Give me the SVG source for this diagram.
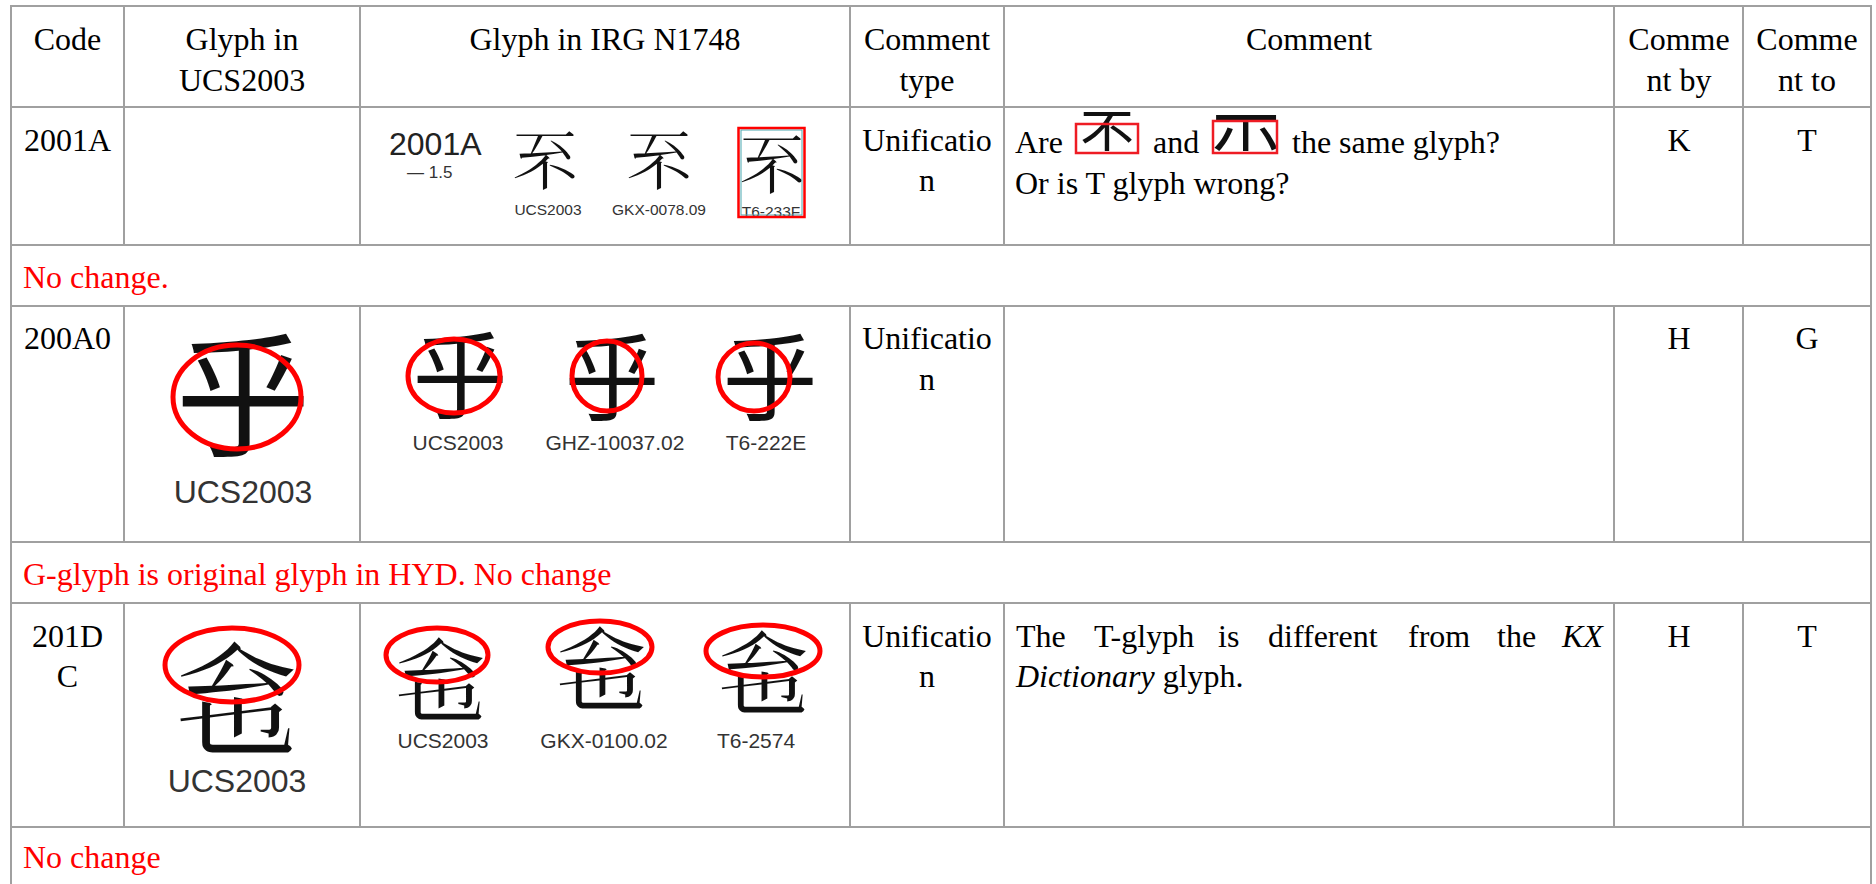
<svg xmlns="http://www.w3.org/2000/svg" width="1876" height="884" viewBox="0 0 1876 884">
<style>
.t{font-family:"Liberation Serif","Times New Roman",serif;font-size:32px;fill:#000}
.m{text-anchor:middle}
.note{font-family:"Liberation Serif","Times New Roman",serif;font-size:32px;fill:#ff0000}
.lab{font-family:"Liberation Sans",Arial,sans-serif;fill:#333;text-anchor:middle}
.cjk{font-family:"Noto Sans CJK TC","Noto Sans CJK SC","Noto Sans CJK JP","Noto Sans CJK KR",sans-serif;fill:#111;text-anchor:middle}
.ring{fill:none;stroke:#ff0000;stroke-width:5}
.grid line{stroke:#a0a0a0;stroke-width:2}
</style>
<defs>
<clipPath id="c1"><rect x="1070" y="112" width="75" height="39"/></clipPath>
<clipPath id="c2"><rect x="1205" y="109" width="80" height="42"/></clipPath>
<clipPath id="c3"><rect x="736" y="126" width="71" height="92"/></clipPath>
</defs>
<rect width="1876" height="884" fill="#fff"/>
<g id="grid" class="grid">
<line x1="11" y1="6" x2="11" y2="884"/>
<line x1="1871" y1="6" x2="1871" y2="884"/>
<line x1="10" y1="6" x2="1872" y2="6"/>
<line x1="10" y1="107" x2="1872" y2="107"/>
<line x1="10" y1="245" x2="1872" y2="245"/>
<line x1="10" y1="306" x2="1872" y2="306"/>
<line x1="10" y1="542" x2="1872" y2="542"/>
<line x1="10" y1="603" x2="1872" y2="603"/>
<line x1="10" y1="827" x2="1872" y2="827"/>
<line x1="124" y1="6" x2="124" y2="245"/><line x1="360" y1="6" x2="360" y2="245"/><line x1="850" y1="6" x2="850" y2="245"/><line x1="1004" y1="6" x2="1004" y2="245"/><line x1="1614" y1="6" x2="1614" y2="245"/><line x1="1743" y1="6" x2="1743" y2="245"/>
<line x1="124" y1="306" x2="124" y2="542"/><line x1="360" y1="306" x2="360" y2="542"/><line x1="850" y1="306" x2="850" y2="542"/><line x1="1004" y1="306" x2="1004" y2="542"/><line x1="1614" y1="306" x2="1614" y2="542"/><line x1="1743" y1="306" x2="1743" y2="542"/>
<line x1="124" y1="603" x2="124" y2="827"/><line x1="360" y1="603" x2="360" y2="827"/><line x1="850" y1="603" x2="850" y2="827"/><line x1="1004" y1="603" x2="1004" y2="827"/><line x1="1614" y1="603" x2="1614" y2="827"/><line x1="1743" y1="603" x2="1743" y2="827"/>
</g>
<g id="header">
<text class="t m" x="67.5" y="50">Code</text>
<text class="t m" x="242" y="50">Glyph in</text>
<text class="t m" x="242" y="91">UCS2003</text>
<text class="t m" x="605" y="50">Glyph in IRG N1748</text>
<text class="t m" x="927" y="50">Comment</text>
<text class="t m" x="927" y="91">type</text>
<text class="t m" x="1309" y="50">Comment</text>
<text class="t m" x="1679" y="50">Comme</text>
<text class="t m" x="1679" y="91">nt by</text>
<text class="t m" x="1807" y="50">Comme</text>
<text class="t m" x="1807" y="91">nt to</text>
</g>
<g id="row1">
<text class="t m" x="67.5" y="151">2001A</text>
<text x="389" y="155" font-family="Liberation Sans, Arial, sans-serif" font-size="32" fill="#222">2001A</text>
<text x="407" y="178" font-family="Liberation Sans, Arial, sans-serif" font-size="17" fill="#333">— 1.5</text>
<text class="cjk" x="545" y="185" font-size="66">𠀚</text>
<text class="lab" x="548" y="215" font-size="15.5">UCS2003</text>
<text class="cjk" x="659" y="185" font-size="66">𠀚</text>
<text class="lab" x="659" y="215" font-size="15.5">GKX-0078.09</text>
<g clip-path="url(#c3)">
<text class="cjk" x="772" y="189" font-size="66">𠀚</text>
<text class="lab" x="771" y="217" font-size="15.5">T6-233F</text>
</g>
<rect x="741" y="130" width="61" height="85" fill="none" stroke="#4aa8b0" stroke-width="1"/>
<rect x="738.5" y="128" width="66" height="89" fill="none" stroke="#ff0000" stroke-width="2.5"/>
<text class="t m" x="927" y="151">Unificatio</text>
<text class="t m" x="927" y="191">n</text>
<text class="t" x="1015" y="153">Are</text>
<g clip-path="url(#c1)"><text class="cjk" x="1107" y="154" font-size="54" fill="#222">不</text></g>
<rect x="1076" y="124" width="62" height="29" fill="none" stroke="#ee1c24" stroke-width="2.5"/>
<text class="t" x="1153" y="153">and</text>
<g clip-path="url(#c2)"><text class="cjk" x="1246" y="151" font-size="68" fill="#222">示</text></g>
<rect x="1213" y="121" width="64" height="32" fill="none" stroke="#ee1c24" stroke-width="2.5"/>
<text class="t" x="1292" y="153">the same glyph?</text>
<text class="t" x="1015" y="194">Or is T glyph wrong?</text>
<text class="t m" x="1679" y="151">K</text>
<text class="t m" x="1807" y="151">T</text>
</g>
<g id="note1"><text class="note" x="23" y="288">No change.</text></g>
<g id="row2">
<text class="t m" x="67.5" y="349">200A0</text>
<text class="cjk" x="243" y="446" font-size="135">乎</text>
<ellipse class="ring" cx="237" cy="397" rx="64" ry="52"/>
<text class="lab" x="243" y="503" font-size="32">UCS2003</text>
<text class="cjk" x="460" y="411" font-size="95">乎</text>
<ellipse class="ring" cx="454" cy="376" rx="46" ry="37" stroke-width="4.5"/>
<text class="lab" x="458" y="450" font-size="21">UCS2003</text>
<text class="cjk" x="612" y="413" font-size="95">乎</text>
<ellipse class="ring" cx="607" cy="376" rx="35" ry="35" stroke-width="4.5"/>
<text class="lab" x="615" y="450" font-size="21">GHZ-10037.02</text>
<text class="cjk" x="770" y="413" font-size="95">乎</text>
<ellipse class="ring" cx="754" cy="377" rx="36" ry="34" stroke-width="4.5"/>
<text class="lab" x="766" y="450" font-size="21">T6-222E</text>
<text class="t m" x="927" y="349">Unificatio</text>
<text class="t m" x="927" y="390">n</text>
<text class="t m" x="1679" y="349">H</text>
<text class="t m" x="1807" y="349">G</text>
</g>
<g id="note2"><text class="note" x="23" y="585">G-glyph is original glyph in HYD. No change</text></g>
<g id="row3">
<text class="t m" x="67.5" y="647">201D</text>
<text class="t m" x="67.5" y="687">C</text>
<text class="cjk" x="236" y="745" font-size="124">𠇜</text>
<ellipse class="ring" cx="232" cy="665" rx="67" ry="37"/>
<text class="lab" x="237" y="792" font-size="32">UCS2003</text>
<text class="cjk" x="440" y="714" font-size="92">𠇜</text>
<ellipse class="ring" cx="437" cy="655" rx="51" ry="27" stroke-width="4.5"/>
<text class="lab" x="443" y="748" font-size="21">UCS2003</text>
<text class="cjk" x="601" y="703" font-size="92">𠇜</text>
<ellipse class="ring" cx="600" cy="647" rx="52" ry="26" stroke-width="4.5"/>
<text class="lab" x="604" y="748" font-size="21">GKX-0100.02</text>
<text class="cjk" x="763" y="707" font-size="92">𠇜</text>
<ellipse class="ring" cx="763" cy="651" rx="57" ry="26" stroke-width="4.5"/>
<text class="lab" x="756" y="748" font-size="21">T6-2574</text>
<text class="t m" x="927" y="647">Unificatio</text>
<text class="t m" x="927" y="687">n</text>
<text class="t" x="1016" y="647">The</text>
<text class="t" x="1094" y="647">T-glyph</text>
<text class="t" x="1218" y="647">is</text>
<text class="t" x="1268" y="647">different</text>
<text class="t" x="1408" y="647">from</text>
<text class="t" x="1497" y="647">the</text>
<text class="t" x="1562" y="647" font-style="italic">KX</text>
<text class="t" x="1016" y="687"><tspan font-style="italic">Dictionary</tspan> glyph.</text>
<text class="t m" x="1679" y="647">H</text>
<text class="t m" x="1807" y="647">T</text>
</g>
<g id="note3"><text class="note" x="23" y="868">No change</text></g>
</svg>
